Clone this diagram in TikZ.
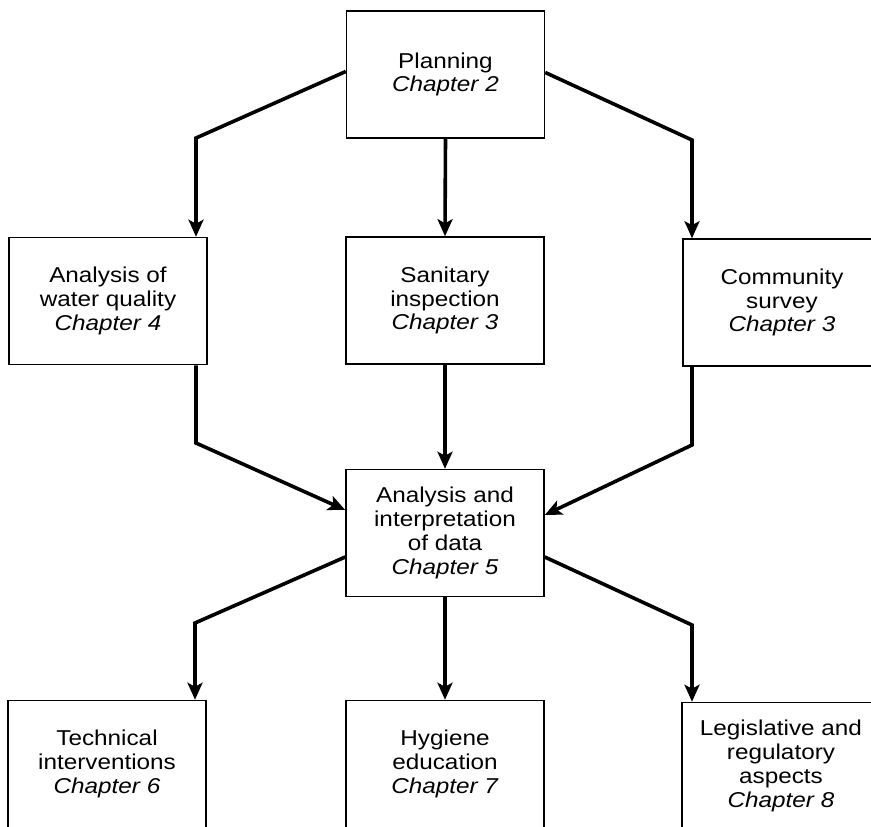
\documentclass[tikz,border=0pt]{standalone}
\usepackage{fontspec}
\setmainfont[FakeStretch=1.13]{Liberation Sans}
\usetikzlibrary{arrows.meta,calc}
\begin{document}
\begin{tikzpicture}[x=1pt,y=-1pt,
  box/.style={draw, line width=1.5pt, minimum width=198pt, minimum height=127pt, inner sep=0pt, align=center, font=\fontsize{21.5}{23.8}\selectfont},
  conn/.style={line width=3.6pt, line join=miter},
  arr/.style={conn, -{Stealth[length=17pt,width=15pt,inset=4pt]}}]
\useasboundingbox (0,0) rectangle (871,827);
\begin{scope}
\clip (0,0) rectangle (871,827);
\node[box] (plan) at (445.5,74.5) {Planning\\\textit{Chapter 2}};
\node[box] (aw) at (108,301) {Analysis of\\water quality\\\textit{Chapter 4}};
\node[box] (san) at (445,300.5) {Sanitary\\inspection\\\textit{Chapter 3}};
\node[box] (com) at (782,302.5) {Community\\survey\\\textit{Chapter 3}};
\node[box] (data) at (445,533) {Analysis and\\interpretation\\of data\\\textit{Chapter 5}};
\node[box] (tech) at (107,764) {Technical\\interventions\\\textit{Chapter 6}};
\node[box] (hyg) at (445,764) {Hygiene\\education\\\textit{Chapter 7}};
\node[box] (leg) at (781,766) {Legislative and\\regulatory\\aspects\\\textit{Chapter 8}};
\coordinate (c1) at (196,138);
\coordinate (c2) at (692,140);
\coordinate (c3) at (196,443);
\coordinate (c4) at (692,445);
\coordinate (c5) at (195,623);
\coordinate (c6) at (692,625);
\draw[arr] ([yshift=3pt]plan.west) -- (c1) -- (c1 |- aw.north);
\draw[arr] (plan.south) -- (san.north);
\draw[arr] ([yshift=2pt]plan.east) -- (c2) -- (c2 |- com.north);
\draw[arr] (c3 |- aw.south) -- (c3) -- ([yshift=23pt]data.west);
\draw[arr] (san.south) -- (data.north);
\draw[arr] (c4 |- com.south) -- (c4) -- ([yshift=18pt]data.east);
\draw[arr] ([yshift=-24pt]data.west) -- (c5) -- (c5 |- tech.north);
\draw[arr] (data.south) -- (hyg.north);
\draw[arr] ([yshift=-24pt]data.east) -- (c6) -- (c6 |- leg.north);
\end{scope}
\end{tikzpicture}
\end{document}
